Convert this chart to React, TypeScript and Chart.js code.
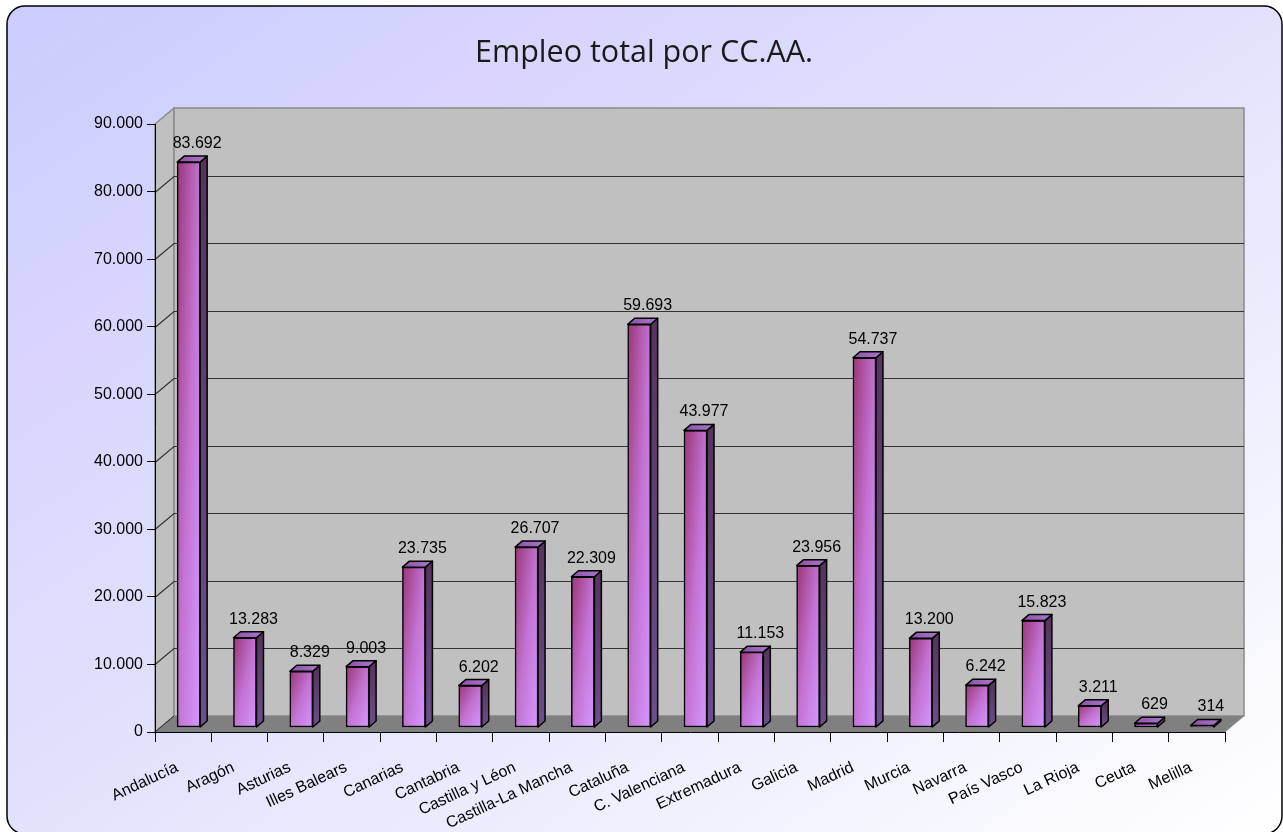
import React, { useEffect, useRef } from "react";
import { Chart, registerables } from "chart.js";

Chart.register(...registerables);

const categories = [
  "Andalucía", "Aragón", "Asturias", "Illes Balears", "Canarias", "Cantabria",
  "Castilla y Léon", "Castilla-La Mancha", "Cataluña", "C. Valenciana", "Extremadura",
  "Galicia", "Madrid", "Murcia", "Navarra", "País Vasco", "La Rioja", "Ceuta", "Melilla",
];
const employment = [
  83692, 13283, 8329, 9003, 23735, 6202, 26707, 22309, 59693, 43977, 11153,
  23956, 54737, 13200, 6242, 15823, 3211, 629, 314,
];
const yTicks = [0, 10000, 20000, 30000, 40000, 50000, 60000, 70000, 80000, 90000];
const titleText = "Empleo total por CC.AA.";

const fmt = (n: number) => Math.round(n).toString().replace(/\B(?=(\d{3})+(?!\d))/g, ".");

const FONT = 'Arial, "Liberation Sans", sans-serif';
const WALL_DX = 19;
const WALL_DY = -16;
const BAR_DX = 5.5;
const BAR_DY = -4.5;
const BAR_W = 23;
const SIDE_DX = 7;
const SIDE_DY = -6;

function barGradient(ctx: CanvasRenderingContext2D, x0: number, y0: number, w: number, h: number) {
  const hh = Math.max(h, 0.5);
  const d = hh * hh + w * w;
  const x1 = x0 + (2 * w * hh * hh) / d;
  const y1 = y0 + (2 * w * w * hh) / d;
  const g = ctx.createLinearGradient(x0, y0, x1, y1);
  g.addColorStop(0, "#9a3676");
  g.addColorStop(0.5, "#c272d2");
  g.addColorStop(1, "#d598ff");
  return g;
}

const scenePlugin = {
  id: "scene3d",
  beforeDraw(chart: any) {
    const { ctx, width, height } = chart;
    const ys = chart.scales.y;
    const area = chart.chartArea;
    ctx.save();
    ctx.fillStyle = "#ffffff";
    ctx.fillRect(0, 0, width, height);
    // frame
    const fx = 7, fy = 6, fw = 1282 - 7, fh = 834 - 6, r = 18;
    const L = (fw * fw + fh * fh);
    const bg = ctx.createLinearGradient(fx, fy, fx + (2 * fw * fh * fh) / L, fy + (2 * fw * fw * fh) / L);
    bg.addColorStop(0, "#ccccff");
    bg.addColorStop(0.5, "#e2e2fd");
    bg.addColorStop(1, "#ffffff");
    ctx.beginPath();
    ctx.roundRect(fx, fy, fw, fh, r);
    ctx.fillStyle = bg;
    ctx.fill();
    ctx.lineWidth = 1.5;
    ctx.strokeStyle = "#000";
    ctx.stroke();

    // title
    ctx.fillStyle = "#1a1a1a";
    ctx.font = '500 30.5px "Open Sans", sans-serif';
    ctx.textAlign = "center";
    ctx.textBaseline = "alphabetic";
    ctx.fillText(titleText, 644, 62);

    const l = area.left, rgt = area.right, t = area.top, b = area.bottom;
    // side wall
    ctx.beginPath();
    ctx.moveTo(l, t);
    ctx.lineTo(l + WALL_DX, t + WALL_DY);
    ctx.lineTo(l + WALL_DX, b + WALL_DY);
    ctx.lineTo(l, b);
    ctx.closePath();
    ctx.fillStyle = "#c0c0c0";
    ctx.fill();
    ctx.strokeStyle = "#8a8a8a";
    ctx.lineWidth = 1.5;
    ctx.stroke();
    // back wall
    ctx.fillStyle = "#c0c0c0";
    ctx.fillRect(l + WALL_DX, t + WALL_DY, rgt - l, b - t);
    ctx.strokeStyle = "#8a8a8a";
    ctx.lineWidth = 1.5;
    ctx.strokeRect(l + WALL_DX, t + WALL_DY, rgt - l, b - t);
    // gridlines
    ctx.strokeStyle = "#333333";
    ctx.lineWidth = 1.2;
    yTicks.forEach((v) => {
      if (v === 0 || v === 90000) return;
      const py = Math.round(ys.getPixelForValue(v)) + 0.5;
      ctx.beginPath();
      ctx.moveTo(l, py);
      ctx.lineTo(l + WALL_DX, py + WALL_DY);
      ctx.lineTo(rgt + WALL_DX, py + WALL_DY);
      ctx.stroke();
    });
    // floor
    ctx.beginPath();
    ctx.moveTo(l, b);
    ctx.lineTo(rgt, b);
    ctx.lineTo(rgt + WALL_DX, b + WALL_DY);
    ctx.lineTo(l + WALL_DX, b + WALL_DY);
    ctx.closePath();
    ctx.fillStyle = "#808080";
    ctx.fill();
    ctx.strokeStyle = "#9a9a9a";
    ctx.lineWidth = 1;
    ctx.beginPath();
    ctx.moveTo(rgt, b);
    ctx.lineTo(rgt + WALL_DX, b + WALL_DY);
    ctx.stroke();
    ctx.strokeStyle = "#2a2a2a";
    ctx.beginPath();
    ctx.moveTo(l, b);
    ctx.lineTo(l + WALL_DX, b + WALL_DY);
    ctx.stroke();
    ctx.restore();
  },
  beforeDatasetsDraw(chart: any) {
    chart.ctx.save();
    chart.ctx.translate(BAR_DX, BAR_DY);
  },
  afterDatasetsDraw(chart: any) {
    const ctx = chart.ctx;
    const meta = chart.getDatasetMeta(0);
    meta.data.forEach((el: any, i: number) => {
      const { x, y, base, width } = el.getProps(["x", "y", "base", "width"], true);
      const left = x - width / 2;
      const right = x + width / 2;
      const top = Math.min(y, base);
      const bottom = Math.max(y, base);
      ctx.lineJoin = "round";
      ctx.lineWidth = 1.5;
      ctx.strokeStyle = "#000";
      // side
      const sg = ctx.createLinearGradient(0, top, 0, bottom);
      sg.addColorStop(0, "#56345e");
      sg.addColorStop(1, "#6e4e8c");
      ctx.beginPath();
      ctx.moveTo(right, top);
      ctx.lineTo(right + SIDE_DX, top + SIDE_DY);
      ctx.lineTo(right + SIDE_DX, bottom + SIDE_DY);
      ctx.lineTo(right, bottom);
      ctx.closePath();
      ctx.fillStyle = sg;
      ctx.fill();
      ctx.stroke();
      // top
      const tg = ctx.createLinearGradient(left, top, right + SIDE_DX, top + SIDE_DY);
      tg.addColorStop(0, "#8e50a6");
      tg.addColorStop(1, "#a878cc");
      ctx.beginPath();
      ctx.moveTo(left, top);
      ctx.lineTo(left + SIDE_DX, top + SIDE_DY);
      ctx.lineTo(right + SIDE_DX, top + SIDE_DY);
      ctx.lineTo(right, top);
      ctx.closePath();
      ctx.fillStyle = tg;
      ctx.fill();
      ctx.stroke();
      // label
      ctx.fillStyle = "#000";
      ctx.font = `16px ${FONT}`;
      ctx.textAlign = "center";
      ctx.textBaseline = "alphabetic";
      ctx.fillText(fmt(employment[i]), x + 8.5, top - 14);
    });
    ctx.restore();
  },
};

export default function App() {
  const ref = useRef<HTMLCanvasElement | null>(null);
  useEffect(() => {
    document.body.style.margin = "0";
    document.body.style.overflow = "hidden";
    if (!ref.current) return;
    const chart = new Chart(ref.current, {
      type: "bar",
      data: {
        labels: categories,
        datasets: [
          {
            data: employment,
            backgroundColor: (c: any) => {
              const ch = c.chart;
              const xs = ch.scales?.x;
              const ys = ch.scales?.y;
              if (!xs || !ys || !ch.chartArea) return "#c070d0";
              const cx = xs.getPixelForValue(c.dataIndex);
              const top = ys.getPixelForValue(employment[c.dataIndex]);
              const base = ys.getPixelForValue(0);
              return barGradient(ch.ctx, cx - BAR_W / 2, top, BAR_W, base - top);
            },
            borderColor: "#000",
            borderWidth: 1.5,
            borderSkipped: false,
            barThickness: BAR_W,
            clip: false,
          } as any,
        ],
      },
      options: {
        responsive: false,
        animation: false,
        devicePixelRatio: 1,
        events: [],
        layout: { padding: { left: 55, right: 58, top: 124, bottom: 0 } },
        plugins: { legend: { display: false }, tooltip: { enabled: false }, title: { display: false } },
        scales: {
          x: {
            offset: true,
            grid: { offset: true, drawOnChartArea: false, drawTicks: true, tickLength: 10, color: "#000", lineWidth: 1 },
            border: { color: "#000", width: 1 },
            ticks: {
              autoSkip: false,
              minRotation: 25,
              maxRotation: 25,
              color: "#000",
              padding: 16,
              labelOffset: -6,
              font: { family: FONT, size: 16 },
            },
            afterFit: (s: any) => { s.height = 100; },
          },
          y: {
            min: 0,
            max: 90000,
            afterBuildTicks: (s: any) => { s.ticks = yTicks.map((v) => ({ value: v })); },
            ticks: {
              color: "#000",
              padding: 4,
              font: { family: FONT, size: 16 },
              callback: (v: any) => fmt(Number(v)),
            },
            grid: { drawOnChartArea: false, drawTicks: true, tickLength: 8, color: "#000", lineWidth: 1 },
            border: { color: "#000", width: 1 },
            afterFit: (s: any) => { s.width = 100; },
          },
        },
      },
      plugins: [scenePlugin],
    });
    return () => chart.destroy();
  }, []);
  return <canvas ref={ref} width={1283} height={832} style={{ display: "block" }} />;
}
